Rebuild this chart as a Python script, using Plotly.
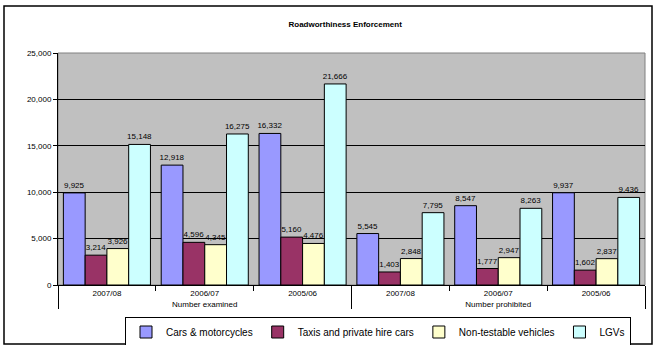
import plotly.graph_objects as go

outer = ["Number examined"] * 3 + ["Number prohibited"] * 3
inner = ["2007/08", "2006/07", "2005/06"] * 2
series = {
    "Cars & motorcycles": [9925, 12918, 16332, 5545, 8547, 9937],
    "Taxis and private hire cars": [3214, 4596, 5160, 1403, 1777, 1602],
    "Non-testable vehicles": [3926, 4345, 4476, 2848, 2947, 2837],
    "LGVs": [15148, 16275, 21666, 7795, 8263, 9436],
}
colors = ["#9999FF", "#993366", "#FFFFCC", "#CCFFFF"]

fig = go.Figure()
for (name, vals), c in zip(series.items(), colors):
    fig.add_trace(go.Bar(
        x=[outer, inner], y=vals, name=name,
        marker=dict(color=c, line=dict(color="black", width=1)),
        text=[f"{v:,}" for v in vals], textposition="outside",
        textfont=dict(size=8, color="black", family="Liberation Sans"),
        cliponaxis=False,
    ))

fig.update_layout(
    width=655, height=345,
    margin=dict(l=58, r=10, t=53, b=60),
    paper_bgcolor="white", plot_bgcolor="#C0C0C0",
    barmode="group", bargap=0.11, bargroupgap=0,
    font=dict(family="Liberation Sans", size=8, color="black"),
    title=dict(text="<b>Roadworthiness Enforcement</b>", x=0.527, xanchor="center",
               y=0.93, yanchor="middle", font=dict(size=8)),
    uniformtext=dict(minsize=7, mode="show"),
    legend=dict(orientation="h", xref="container", yref="container",
                x=378 / 655, xanchor="center", y=1 - 332 / 345, yanchor="middle",
                bordercolor="black", borderwidth=1, bgcolor="white",
                font=dict(size=10), itemwidth=30, traceorder="normal",
                tracegroupgap=0),
    showlegend=True,
)
fig.update_yaxes(range=[0, 25000], dtick=5000, tickformat=",", showgrid=True,
                 gridcolor="black", gridwidth=1, showline=True, linecolor="black",
                 ticks="outside", ticklen=4, tickcolor="black", zeroline=False,
                 automargin=False, tickfont=dict(size=8))
fig.update_xaxes(showline=True, linecolor="black", ticks="outside", tickcolor="black",
                 showdividers=True, dividercolor="black", dividerwidth=1,
                 automargin=False, tickfont=dict(size=8))
fig.add_shape(type="rect", xref="paper", yref="paper",
              x0=0, x1=1, y0=0, y1=1, line=dict(color="#808080", width=1), layer="below")
fig.add_shape(type="rect", xref="paper", yref="paper",
              x0=(4 - 58) / 587, x1=(652 - 58) / 587, y0=(285 - 344) / 232, y1=(285 - 6) / 232,
              line=dict(color="black", width=1.5))
fig.write_html("out.html")
